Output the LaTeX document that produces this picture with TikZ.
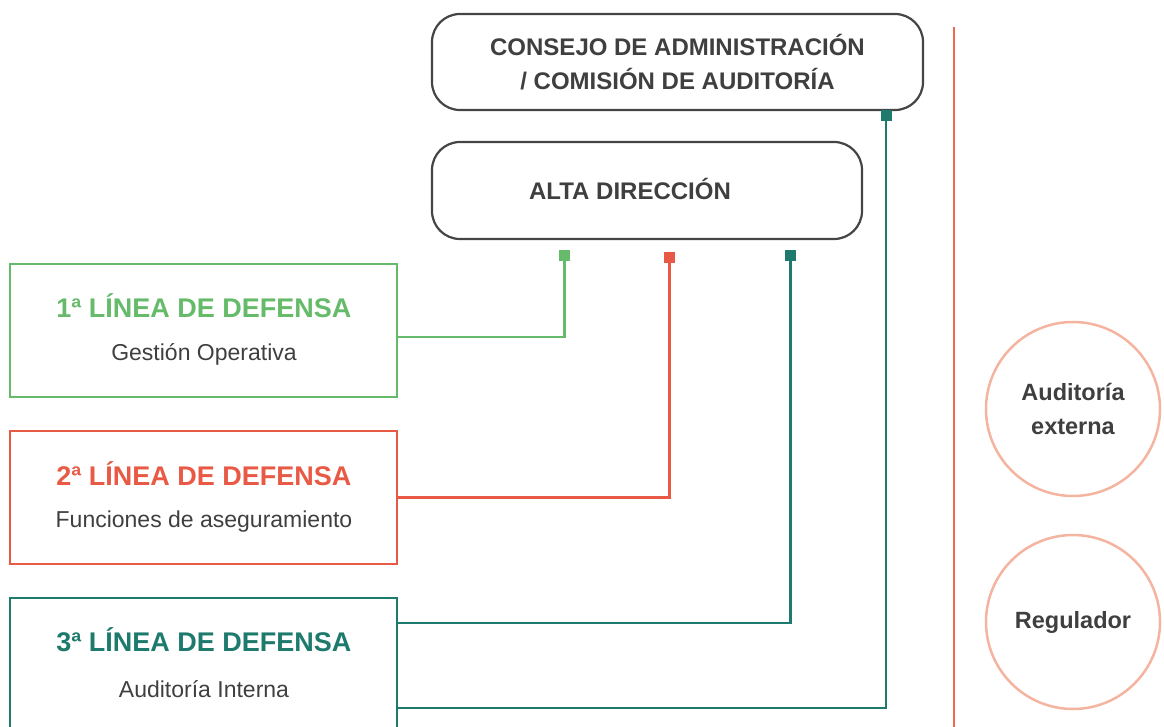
\documentclass[tikz,border=0pt]{standalone}
\usepackage{fontspec}
\setmainfont{Liberation Sans}
\definecolor{cgreen}{HTML}{66BB6A}
\definecolor{cred}{HTML}{E85A45}
\definecolor{cteal}{HTML}{1D7A6C}
\definecolor{csalmon}{HTML}{F5B4A0}
\definecolor{cvline}{HTML}{EE6A55}
\definecolor{ctext}{HTML}{3F3F3F}
\definecolor{cborder}{HTML}{454545}
\begin{document}
\begin{tikzpicture}[x=1pt,y=-1pt,
  govbox/.style={draw=cborder,line width=2.2pt,rounded corners=28pt,fill=white,inner sep=0pt},
  linebox/.style={draw=#1,line width=2pt,minimum width=387pt,minimum height=133pt,inner sep=0pt},
  title/.style={text=#1,font=\fontsize{27}{30}\selectfont\bfseries},
  sub/.style={text=ctext,font=\fontsize{23}{26}\selectfont},
  head/.style={text=ctext,font=\fontsize{24}{34}\selectfont\bfseries,align=center},
  marker/.style={fill=#1,minimum size=11pt,inner sep=0pt},
  conn/.style={draw=#1,line width=2.4pt},
  ext/.style={circle,draw=csalmon,line width=2.5pt,minimum size=174pt,inner sep=0pt,text=ctext,font=\fontsize{23.5}{34}\selectfont\bfseries,align=center}]
\useasboundingbox (0,0) rectangle (1164,727);
\clip (0,0) rectangle (1164,727);
% governance boxes
\node[govbox,minimum width=491pt,minimum height=96pt] (cons) at (677.5,62) {};
\node[head] (consT) at (677.5,62) {CONSEJO DE ADMINISTRACIÓN\\/ COMISIÓN DE AUDITORÍA};
\node[govbox,minimum width=430pt,minimum height=97pt] (alta) at (647,190.5) {};
\node[head] (altaT) at (630,189) {ALTA DIRECCIÓN};
% lines of defense
\node[linebox=cgreen] (b1) at (203.5,330.5) {};
\node[title=cgreen] (b1t) at (204,306) {1ª LÍNEA DE DEFENSA};
\node[sub] (b1s) at (204,354) {Gestión Operativa};
\node[linebox=cred] (b2) at (203.5,497.5) {};
\node[title=cred] (b2t) at (204,474) {2ª LÍNEA DE DEFENSA};
\node[sub] (b2s) at (204,522) {Funciones de aseguramiento};
\node[linebox=cteal] (b3) at (203.5,664.5) {};
\node[title=cteal] (b3t) at (204,640) {3ª LÍNEA DE DEFENSA};
\node[sub] (b3s) at (204,689) {Auditoría Interna};
% markers
\node[marker=cgreen] (mg) at (564.5,255.5) {};
\node[marker=cred] (mr) at (669.5,257.5) {};
\node[marker=cteal] (mt) at (790.5,255.5) {};
\node[marker=cteal] (mc) at (886,116) {};
% connectors
\draw[conn=cgreen] (mg.center) |- ([yshift=-6.5pt]b1.east);
\draw[conn=cred] (mr.center) |- (b2.east);
\draw[conn=cteal] (mt.center) |- ([yshift=41.5pt]b3.east);
\draw[conn=cteal] (mc.center) |- ([yshift=-43.5pt]b3.east);
% separator
\coordinate (vtop) at (954,27);
\coordinate (vbot) at (954,730);
\draw[cvline,line width=2pt] (vtop) -- (vbot);
% external
\node[ext] (aud) at (1073,409) {Auditoría\\externa};
\node[ext] (reg) at (1073,622) {Regulador};
\end{tikzpicture}
\end{document}
